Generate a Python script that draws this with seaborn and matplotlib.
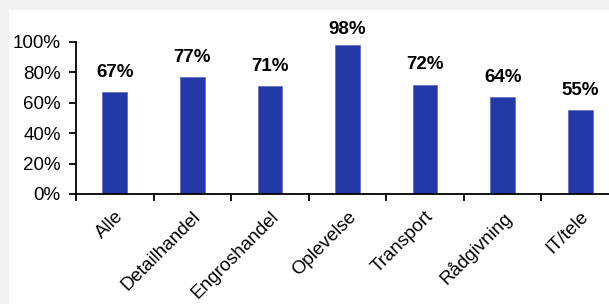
import matplotlib
matplotlib.use("Agg")
import matplotlib.pyplot as plt
import seaborn as sns
import pandas as pd
from matplotlib.patches import Rectangle
from matplotlib.ticker import FixedLocator, PercentFormatter

categories = ["Alle", "Detailhandel", "Engroshandel", "Oplevelse", "Transport", "Rådgivning", "IT/tele"]
values = [67, 77, 71, 98, 72, 64, 55]

sns.set_style("ticks")
plt.rcParams['font.family'] = ['Liberation Sans', 'DejaVu Sans']
plt.rcParams['text.color'] = 'black'
plt.rcParams['xtick.color'] = 'black'
plt.rcParams['ytick.color'] = 'black'

df = pd.DataFrame({"branche": categories, "andel": values})

fig = plt.figure(figsize=(6.09, 3.04), dpi=100)
fig.patch.set_facecolor("#f2f2f2")
# hvid baggrund bag grafen
fig.add_artist(Rectangle((9 / 609, 0), 1, (304 - 10) / 304, transform=fig.transFigure,
                         facecolor="white", edgecolor="none", zorder=0))

ax = fig.add_axes([76 / 609, 110 / 304, 543 / 609, 152 / 304])
ax.set_facecolor("none")

sns.barplot(data=df, x="branche", y="andel", color="#2339a7", width=0.32, ax=ax,
            saturation=1, edgecolor="#4a5cb8", linewidth=0.4)

for i, v in enumerate(values):
    # labels sit ~10 points above the bar, but never above the top of the panel
    ax.text(i, min(v + 10, 105.5), f"{v}%", ha="center", va="baseline",
            fontsize=13.5, fontweight="bold", clip_on=False)

ax.set_xlim(-0.5, len(categories) - 0.5)
ax.set_ylim(0, 100)
ax.yaxis.set_major_locator(FixedLocator(range(0, 101, 20)))
ax.yaxis.set_major_formatter(PercentFormatter(decimals=0))
ax.xaxis.set_major_locator(FixedLocator([i + 0.5 for i in range(-1, len(categories))]))
ax.xaxis.set_minor_locator(FixedLocator(range(len(categories))))
ax.set_xticklabels([])
ax.set_xticklabels(categories, minor=True, rotation=45, ha="right", rotation_mode="anchor")
ax.tick_params(axis="x", which="minor", length=0, pad=10, labelsize=13.5)
ax.tick_params(axis="x", which="major", length=5, width=1.3, direction="out")
ax.tick_params(axis="y", length=5, width=1.3, labelsize=13.5, pad=6)

sns.despine(ax=ax)
for s in ["left", "bottom"]:
    ax.spines[s].set_linewidth(1.3)
    ax.spines[s].set_color("black")
ax.set_xlabel("")
ax.set_ylabel("")

fig.savefig("out.png", dpi=100, facecolor=fig.get_facecolor())
